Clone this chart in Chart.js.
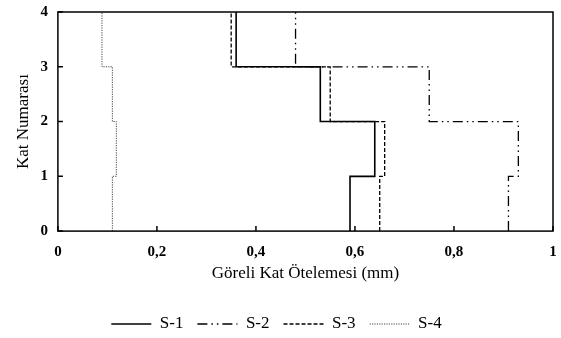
<!DOCTYPE html>
<html>
<head>
<meta charset="utf-8">
<script src="https://cdn.jsdelivr.net/npm/chart.js@4"></script>
<style>
    html, body { margin: 0; padding: 0; background: #fff; }
    #wrap { width: 561px; height: 338px; }
</style>
</head>
<body>
<div id="wrap"><canvas id="driftChart"></canvas></div>
<script>
// Floor levels (Kat) and storey drift per storey (storey 1..4)
const floors = [0, 1, 2, 3, 4];
const seriesNames = ['S-1', 'S-2', 'S-3', 'S-4'];
const driftS1 = [0.59, 0.64, 0.53, 0.36];
const driftS2 = [0.91, 0.93, 0.75, 0.48];
const driftS3 = [0.65, 0.66, 0.55, 0.35];
const driftS4 = [0.11, 0.118, 0.11, 0.089];
const xTicks = [0, 0.2, 0.4, 0.6, 0.8, 1];
const yTicks = [0, 1, 2, 3, 4];

// Turn per-storey values into a stepped profile
function stepPoints(values) {
    const pts = [];
    values.forEach((v, i) => {
        pts.push({x: v, y: floors[i]});
        pts.push({x: v, y: floors[i + 1]});
    });
    return pts;
}

// Frame around plot area + inward tick marks
const framePlugin = {
    id: 'frame',
    afterDraw(chart) {
        const {ctx, chartArea: a, scales} = chart;
        ctx.save();
        ctx.strokeStyle = '#000';
        ctx.lineWidth = 1.5;
        ctx.strokeRect(a.left, a.top, a.right - a.left, a.bottom - a.top);
        ctx.beginPath();
        xTicks.forEach(t => {
            const px = scales.x.getPixelForValue(t);
            ctx.moveTo(px, a.bottom);
            ctx.lineTo(px, a.bottom - 5);
        });
        yTicks.forEach(t => {
            const py = scales.y.getPixelForValue(t);
            ctx.moveTo(a.left, py);
            ctx.lineTo(a.left + 5, py);
        });
        ctx.stroke();
        ctx.restore();
    }
};

const serif = '"Liberation Serif", "Times New Roman", serif';

// legend line samples keep each dataset's dash pattern
function legendLabels(chart) {
    const items = Chart.defaults.plugins.legend.labels.generateLabels(chart);
    return items.map(item => {
        const ds = chart.data.datasets[item.datasetIndex];
        return Object.assign(item, {
            lineDash: ds.borderDash,
            lineWidth: ds.borderWidth,
            strokeStyle: ds.borderColor,
            fillStyle: 'rgba(0,0,0,0)',
            pointStyle: 'line'
        });
    });
}

const ctx = document.getElementById('driftChart').getContext('2d');
const driftChart = new Chart(ctx, {
    type: 'scatter',
    data: {
        datasets: [
            {
                label: seriesNames[0],
                data: stepPoints(driftS1),
                borderColor: '#000',
                borderWidth: 1.6,
                borderDash: []
            },
            {
                label: seriesNames[1],
                data: stepPoints(driftS2),
                borderColor: '#000',
                borderWidth: 1.3,
                borderDash: [10, 4, 1.5, 4, 1.5, 4]
            },
            {
                label: seriesNames[2],
                data: stepPoints(driftS3),
                borderColor: '#000',
                borderWidth: 1.3,
                borderDash: [4, 2]
            },
            {
                label: seriesNames[3],
                data: stepPoints(driftS4),
                borderColor: '#444',
                borderWidth: 1,
                borderDash: [1.2, 1.2]
            }
        ].map(ds => Object.assign(ds, {
            showLine: true,
            pointRadius: 0,
            pointHoverRadius: 0,
            fill: false,
            tension: 0,
            backgroundColor: 'rgba(0,0,0,0)'
        }))
    },
    options: {
        responsive: true,
        maintainAspectRatio: false,
        animation: false,
        layout: {
            autoPadding: false,
            padding: {left: 0, right: 8, top: 12, bottom: -4.5}
        },
        plugins: {
            legend: {
                position: 'bottom',
                labels: {
                    usePointStyle: true,
                    pointStyle: 'line',
                    pointStyleWidth: 40,
                    boxHeight: 17,
                    padding: 14,
                    color: '#000',
                    font: {family: serif, size: 17},
                    generateLabels: legendLabels
                }
            },
            tooltip: {enabled: false}
        },
        scales: {
            x: {
                type: 'linear',
                min: 0,
                max: 1,
                grid: {display: false, drawTicks: false, tickLength: 0},
                border: {display: false},
                afterBuildTicks: scale => {
                    scale.ticks = xTicks.map(v => ({value: v}));
                },
                afterFit: scale => {
                    scale.paddingLeft = 0;
                    scale.paddingRight = 0;
                },
                ticks: {
                    color: '#000',
                    padding: 12.5,
                    maxRotation: 0,
                    font: {family: serif, size: 15, weight: 'bold'},
                    callback: value => String(value).replace('.', ',')
                },
                title: {
                    display: true,
                    text: 'Göreli Kat Ötelemesi (mm)',
                    color: '#000',
                    padding: {top: -11, bottom: 18},
                    font: {family: serif, size: 17}
                }
            },
            y: {
                type: 'linear',
                min: 0,
                max: 4,
                grid: {display: false, drawTicks: false, tickLength: 0},
                border: {display: false},
                afterBuildTicks: scale => {
                    scale.ticks = yTicks.map(v => ({value: v}));
                },
                afterFit: scale => {
                    scale.paddingTop = 0;
                    scale.paddingBottom = 0;
                },
                ticks: {
                    color: '#000',
                    padding: 10,
                    font: {family: serif, size: 15, weight: 'bold'}
                },
                title: {
                    display: true,
                    text: 'Kat Numarası',
                    color: '#000',
                    padding: {top: 13, bottom: -3},
                    font: {family: serif, size: 17}
                }
            }
        }
    },
    plugins: [framePlugin]
});
</script>
</body>
</html>
